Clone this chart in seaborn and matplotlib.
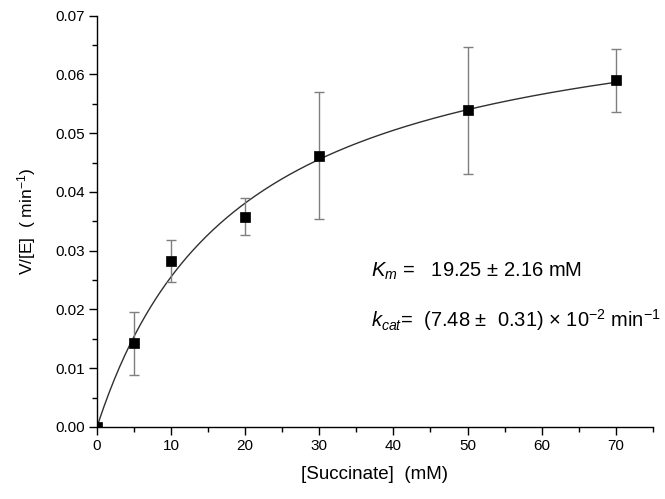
import numpy as np
import pandas as pd
import matplotlib
matplotlib.use("Agg")
import matplotlib.pyplot as plt
from matplotlib.ticker import MultipleLocator, FormatStrFormatter
import seaborn as sns

# Measured initial rates
succinate_mM = [0, 5, 10, 20, 30, 50, 70]
rate = [0.0, 0.01425, 0.0283, 0.0358, 0.0462, 0.0539, 0.0590]
rate_err = [0.0, 0.0054, 0.0036, 0.0031, 0.0108, 0.0108, 0.0054]

# Michaelis-Menten fit parameters
Km = 19.25
kcat = 0.0748

sns.set_theme(style="ticks")
plt.rcParams["font.family"] = ["Liberation Sans", "DejaVu Sans"]
plt.rcParams["mathtext.fontset"] = "custom"
plt.rcParams["mathtext.rm"] = "Liberation Sans"
plt.rcParams["mathtext.it"] = "Liberation Sans:italic"
plt.rcParams["text.color"] = "black"
plt.rcParams["axes.labelcolor"] = "black"

fig = plt.figure(figsize=(6.65, 4.99), dpi=100)
ax = fig.add_axes([0.1459, 0.1443, 0.8357, 0.8242])

df = pd.DataFrame({"S": succinate_mM, "v": rate, "err": rate_err})

# fitted curve
s_fit = np.linspace(0, 70, 300)
fit = pd.DataFrame({"S": s_fit, "v": kcat * s_fit / (Km + s_fit)})
sns.lineplot(data=fit, x="S", y="v", ax=ax, color="#303030", lw=1.0, zorder=2)

# error bars
mask = df["err"] > 0
ax.errorbar(df.loc[mask, "S"], df.loc[mask, "v"], yerr=df.loc[mask, "err"],
            fmt="none", ecolor="#7f7f7f", elinewidth=1.0, capsize=3.3,
            capthick=1.0, zorder=3)

# data points
sns.scatterplot(data=df, x="S", y="v", ax=ax, marker="s", s=44,
                color="black", edgecolor="black", linewidth=0.5, zorder=4)

ax.set_xlim(0, 75)
ax.set_ylim(0, 0.07)
ax.xaxis.set_major_locator(MultipleLocator(10))
ax.xaxis.set_minor_locator(MultipleLocator(5))
ax.yaxis.set_major_locator(MultipleLocator(0.01))
ax.yaxis.set_minor_locator(MultipleLocator(0.005))
ax.yaxis.set_major_formatter(FormatStrFormatter("%.2f"))

for side in ("top", "right"):
    ax.spines[side].set_visible(False)
for side in ("left", "bottom"):
    ax.spines[side].set_linewidth(1.0)
    ax.spines[side].set_color("black")

ax.tick_params(which="major", direction="out", length=6, width=1.0,
               labelsize=11, colors="black", pad=3)
ax.tick_params(which="minor", direction="out", length=3.5, width=1.0,
               colors="black")

ax.set_xlabel("[Succinate]  (mM)", fontsize=13.5, labelpad=9)
ax.set_ylabel(r"V/[E]  ( min$^{-1}$)", fontsize=12.5, labelpad=12)

ax.text(37.0, 0.0255, r"$K_m$ =   19.25 ± 2.16 mM", fontsize=14.5,
        va="baseline", ha="left")
ax.text(37.0, 0.0170, r"$k_{cat}$=  (7.48 ±  0.31) × 10$^{-2}$ min$^{-1}$",
        fontsize=14.5, va="baseline", ha="left", clip_on=False)

fig.savefig("out.png", dpi=100)
